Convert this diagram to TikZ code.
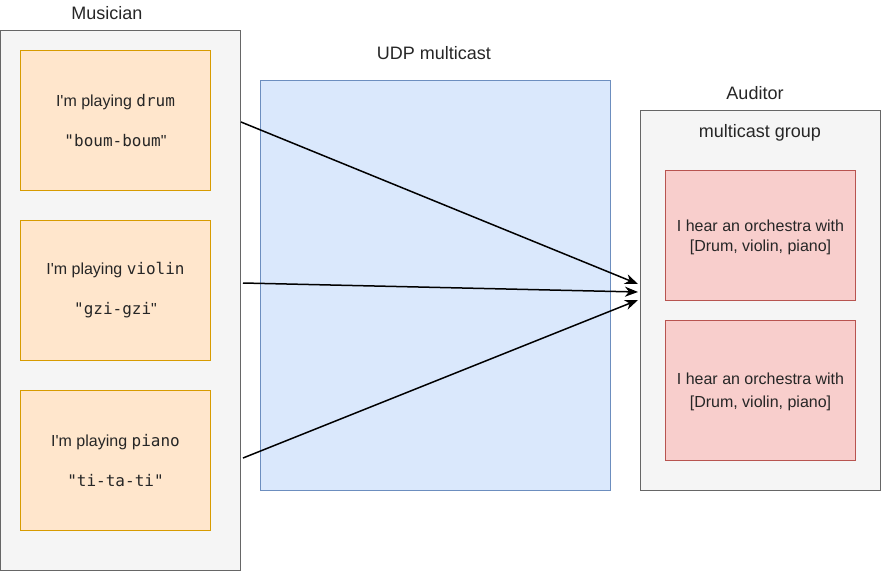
\documentclass[tikz,border=0pt]{standalone}
\usepackage{fontspec}
\setmainfont{Liberation Sans}[Ligatures=TeXOff]
\setmonofont{DejaVu Sans Mono}
\usetikzlibrary{arrows.meta}
\usetikzlibrary{positioning}

\definecolor{grayfill}{HTML}{F5F5F5}
\definecolor{graydraw}{HTML}{666666}
\definecolor{orangefill}{HTML}{FFE6CC}
\definecolor{orangedraw}{HTML}{D79B00}
\definecolor{bluefill}{HTML}{DAE8FC}
\definecolor{bluedraw}{HTML}{6C8EBF}
\definecolor{redfill}{HTML}{F8CECC}
\definecolor{reddraw}{HTML}{B85450}

\begin{document}
\begin{tikzpicture}[x=1pt, y=-1pt, >={Stealth[length=13pt,width=10pt,inset=4pt]},
  every node/.style={font=\fontsize{16}{19}\selectfont, text=black!85, inner sep=0pt},
  titletext/.style={font=\fontsize{18}{21}\selectfont},
  groupbox/.style={draw=graydraw, fill=grayfill, line width=0.8pt},
  playerbox/.style={draw=orangedraw, fill=orangefill, line width=0.8pt,
    minimum width=190pt, minimum height=140pt, align=center},
  hearbox/.style={draw=reddraw, fill=redfill, line width=0.8pt,
    minimum width=190pt, align=center, text depth=0pt},
  flow/.style={->, line width=1.5pt}]
  \useasboundingbox (0, 0) rectangle (881, 571);

  % conteneurs
  \node[groupbox, minimum width=240pt, minimum height=540pt] (musician) at (120.5, 300.5) {};
  \node[draw=bluedraw, fill=bluefill, line width=0.8pt, minimum width=350pt, minimum height=410pt] (udp) at (435.5, 285.5) {};
  \node[groupbox, minimum width=240pt, minimum height=380pt] (auditor) at (760.5, 300.5) {};

  % titres
  \node[titletext] (musiciantitle) at (107, 13) {Musician};
  \node[titletext] (udptitle) at (434, 53) {UDP multicast};
  \node[titletext] (auditortitle) at (755, 93) {Auditor};
  \node[titletext] (grouptitle) at (760, 133) {multicast group};

  % musiciens
  \node[playerbox] (drum) at (115.5, 120.5)
    {I'm playing \texttt{drum}\\[21pt]\texttt{"boum-boum}"};
  \node[playerbox] (violin) at (115.5, 290.5)
    {I'm playing \texttt{violin}\\[21pt]\texttt{"gzi-gzi}"};
  \node[playerbox] (piano) at (115.5, 460.5)
    {I'm playing \texttt{piano}\\[21pt]\texttt{"ti-ta-ti"}};

  % auditeurs
  \node[hearbox, minimum height=130pt] (hearone) at (760.5, 235.5)
    {I hear an orchestra with\\[1pt][Drum, violin, piano]};
  \node[hearbox, minimum height=140pt] (heartwo) at (760.5, 390.5)
    {I hear an orchestra with\\[4pt][Drum, violin, piano]};

  % extremites des fleches
  \coordinate (drumout) at (241, 122);
  \coordinate (violinout) at (243, 283);
  \coordinate (pianoout) at (243, 458);
  \coordinate (drumin) at (638, 284);
  \coordinate (violinin) at (638, 292);
  \coordinate (pianoin) at (638, 300);

  \draw[flow] (drumout) -- (drumin);
  \draw[flow] (violinout) -- (violinin);
  \draw[flow] (pianoout) -- (pianoin);
\end{tikzpicture}
\end{document}
